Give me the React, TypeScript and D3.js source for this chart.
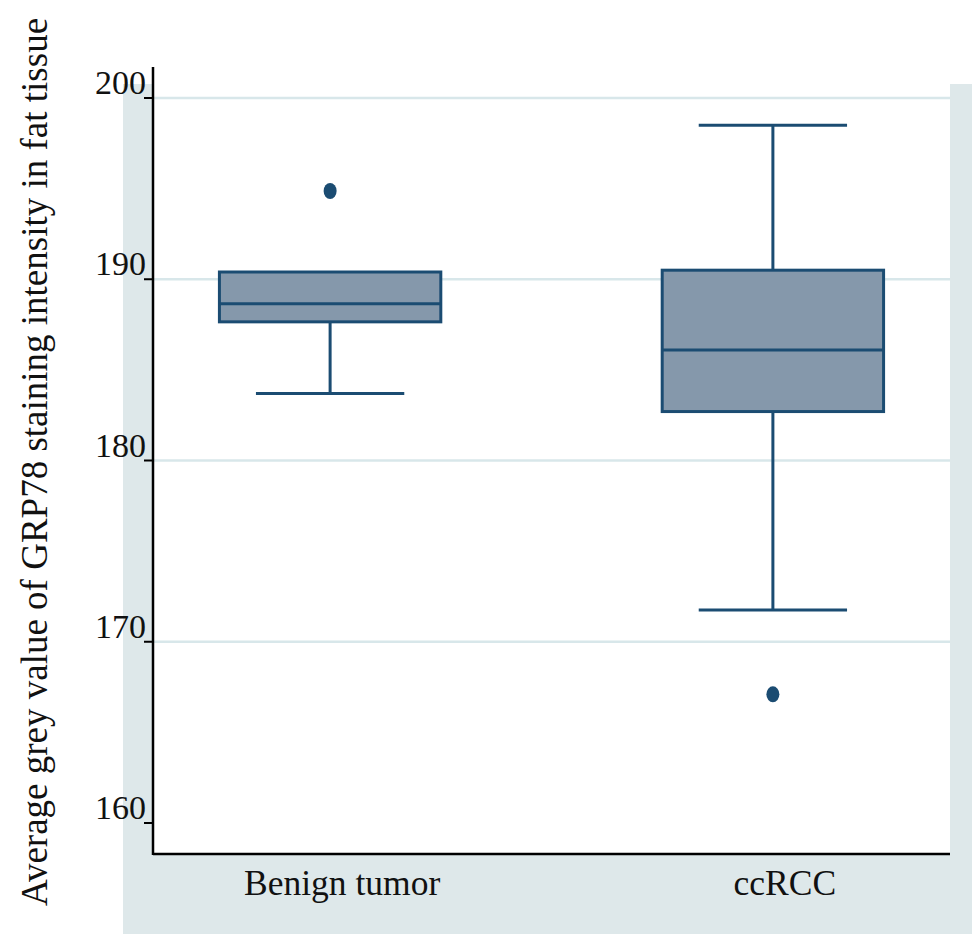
import React from 'react';
import * as d3 from 'd3';

// box plot summary
const categories = ['Benign tumor', 'ccRCC'];
const lowerWhisker = [183.7, 171.75];
const q1 = [187.65, 182.7];
const median = [188.65, 186.1];
const q3 = [190.4, 190.5];
const upperWhisker = [190.4, 198.5];
const outliers = [[194.87], [167.1]];
const yTicks = [160, 170, 180, 190, 200];
const gridTicks = [170, 180, 190, 200];
const yLabel = 'Average grey value of GRP78 staining intensity in fat tissue';

const W = 972;
const H = 934;
const plot = {left: 153, right: 950, top: 84, bottom: 854};
const navy = '#1b4c72';
const boxFill = '#8598ab';
const serif = "'Liberation Serif'";

export default function App() {
  const y = d3.scaleLinear().domain([160, 200]).range([823, 98]);
  const x = d3.scalePoint<string>()
    .domain(categories)
    .range([plot.left, plot.right])
    .padding(0.4);
  const step = x.step();
  const boxW = step * 0.5;
  const capW = step * 0.335;

  return (
    <svg width={W} height={H} style={{position: 'absolute', left: 0, top: 0}}>
      <rect x={123} y={plot.top} width={W - 123} height={H - plot.top} fill="#dee8ea" />
      <rect x={plot.left} y={plot.top} width={plot.right - plot.left} height={plot.bottom - plot.top} fill="#ffffff" />

      {gridTicks.map(t => (
        <line key={'g' + t} x1={plot.left} x2={plot.right} y1={y(t)} y2={y(t)} stroke="#d8e7ea" strokeWidth={2.5} />
      ))}

      {categories.map((c, i) => {
        const cx = x(c) as number;
        return (
          <g key={c}>
            <line x1={cx} x2={cx} y1={y(q1[i])} y2={y(lowerWhisker[i])} stroke={navy} strokeWidth={3} />
            <line x1={cx} x2={cx} y1={y(q3[i])} y2={y(upperWhisker[i])} stroke={navy} strokeWidth={3} />
            <line x1={cx - capW / 2} x2={cx + capW / 2} y1={y(lowerWhisker[i])} y2={y(lowerWhisker[i])} stroke={navy} strokeWidth={3} />
            {upperWhisker[i] > q3[i] && (
              <line x1={cx - capW / 2} x2={cx + capW / 2} y1={y(upperWhisker[i])} y2={y(upperWhisker[i])} stroke={navy} strokeWidth={3} />
            )}
            <rect x={cx - boxW / 2} y={y(q3[i])} width={boxW} height={y(q1[i]) - y(q3[i])}
              fill={boxFill} stroke={navy} strokeWidth={3} />
            <line x1={cx - boxW / 2} x2={cx + boxW / 2} y1={y(median[i])} y2={y(median[i])} stroke={navy} strokeWidth={3} />
            {outliers[i].map((o, j) => (
              <ellipse key={j} cx={cx} cy={y(o)} rx={6.5} ry={8} fill={navy} />
            ))}
          </g>
        );
      })}

      {/* axes */}
      <line x1={plot.left} x2={plot.left} y1={67} y2={plot.bottom + 1} stroke="#000" strokeWidth={2.5} />
      <line x1={plot.left} x2={plot.right} y1={plot.bottom} y2={plot.bottom} stroke="#000" strokeWidth={2.5} />
      {yTicks.map(t => (
        <g key={'t' + t}>
          <line x1={plot.left - 9} x2={plot.left} y1={y(t)} y2={y(t)} stroke="#000" strokeWidth={2} />
          <text x={plot.left - 7} y={y(t) - 4} textAnchor="end" fontFamily={serif} fontSize={34} fill="#111">{t}</text>
        </g>
      ))}
      {categories.map(c => (
        <text key={'l' + c} x={(x(c) as number) + 12} y={895} textAnchor="middle" fontFamily={serif} fontSize={35.5} fill="#111">{c}</text>
      ))}
      <text transform={`translate(47,462) rotate(-90)`} textAnchor="middle" fontFamily={serif} fontSize={37} fill="#111">{yLabel}</text>
    </svg>
  );
}
